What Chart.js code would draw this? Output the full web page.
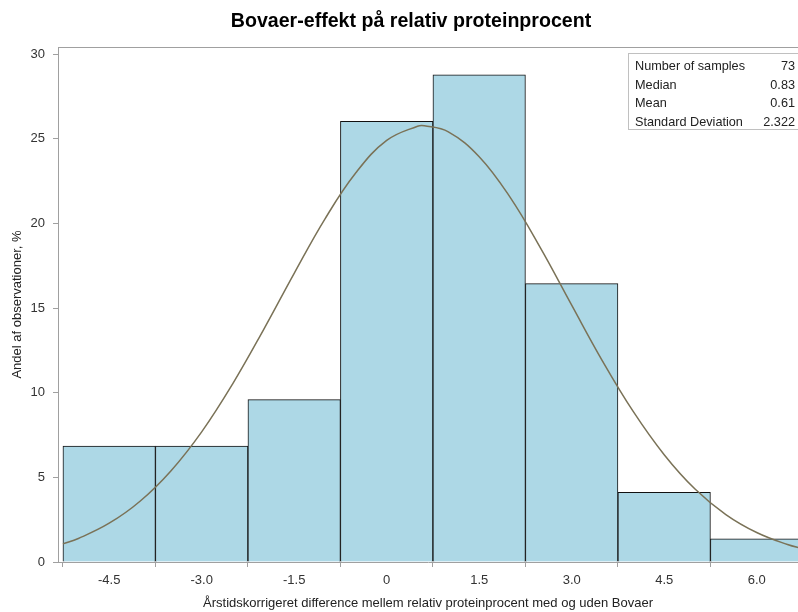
<!DOCTYPE html>
<html>
<head>
<meta charset="utf-8">
<script src="https://cdn.jsdelivr.net/npm/chart.js@4.4.0/dist/chart.umd.min.js"></script>
<style>
  html, body { margin: 0; padding: 0; background: #fff; }
  #wrap { width: 798px; height: 612px; }
</style>
</head>
<body>
<div id="wrap"><canvas id="histChart"></canvas></div>
<script>
// Histogram data (share of observations in %)
const binCenters = [-4.5, -3.0, -1.5, 0, 1.5, 3.0, 4.5, 6.0];
const binPercent = [6.85, 6.85, 9.59, 26.03, 28.77, 16.44, 4.11, 1.37];

// Normal curve
const curveX = [-5.25, -5.0, -4.5, -4.0, -3.5, -3.0, -2.5, -2.0, -1.5, -1.0, -0.5, 0, 0.5, 0.61, 1.0, 1.5, 2.0, 2.5, 3.0, 3.5, 4.0, 4.5, 5.0, 5.5, 6.0, 6.5, 6.75];
const curveY = [1.07, 1.39, 2.29, 3.59, 5.38, 7.69, 10.51, 13.70, 17.05, 20.27, 22.99, 24.90, 25.74, 25.77, 25.41, 23.94, 21.55, 18.51, 15.17, 11.87, 8.88, 6.34, 4.31, 2.80, 1.74, 1.03, 0.78];

// Tick labels
const xTicks = [-4.5, -3.0, -1.5, 0, 1.5, 3.0, 4.5, 6.0];
const xTickLabels = ['-4.5', '-3.0', '-1.5', '0', '1.5', '3.0', '4.5', '6.0'];
const yTicks = [0, 5, 10, 15, 20, 25, 30];

// Summary box
const statLabels = ['Number of samples', 'Median', 'Mean', 'Standard Deviation'];
const statValues = ['73', '0.83', '0.61', '2.322'];

const chartTitle = 'Bovaer-effekt på relativ proteinprocent';
const FONT = '"Liberation Sans", Arial, sans-serif';

const frameAndStats = {
    id: 'frameAndStats',
    afterDatasetsDraw(chart) {
        const { ctx, chartArea } = chart;
        ctx.save();
        // title (sits a bit right of centre in the original)
        ctx.font = 'bold 19.6px ' + FONT;
        ctx.fillStyle = '#000';
        ctx.textAlign = 'center';
        ctx.textBaseline = 'middle';
        ctx.fillText(chartTitle, 411, 21.5);

        // top frame line
        ctx.strokeStyle = '#a0a0a0';
        ctx.lineWidth = 1;
        ctx.beginPath();
        ctx.moveTo(chartArea.left, chartArea.top + 0.5);
        ctx.lineTo(chartArea.right, chartArea.top + 0.5);
        ctx.stroke();

        // stats inset
        const bx = 628.5, by = 53.5, bw = 180, bh = 76;
        ctx.fillStyle = '#fff';
        ctx.fillRect(bx, by, bw, bh);
        ctx.strokeStyle = '#c0c0c0';
        ctx.strokeRect(bx, by, bw, bh);
        ctx.font = '12.7px ' + FONT;
        ctx.fillStyle = '#222';
        ctx.textBaseline = 'middle';
        const rowY = [66, 85, 103.5, 122];
        statLabels.forEach((lab, i) => {
            ctx.textAlign = 'left';
            ctx.fillText(lab, 635, rowY[i]);
            ctx.textAlign = 'right';
            ctx.fillText(statValues[i], 795, rowY[i]);
        });
        ctx.restore();
    }
};

const ctx = document.getElementById('histChart').getContext('2d');
const histChart = new Chart(ctx, {
    type: 'bar',
    data: {
        datasets: [
            {
                type: 'line',
                data: curveX.map((x, i) => ({ x: x, y: curveY[i] })),
                borderColor: '#7a7257',
                borderWidth: 1.5,
                pointRadius: 0,
                tension: 0.4,
                fill: false,
                order: 0
            },
            {
                type: 'bar',
                data: binCenters.map((x, i) => ({ x: x, y: binPercent[i] })),
                backgroundColor: '#add8e6',
                borderColor: '#111',
                borderWidth: 1,
                barPercentage: 1.0,
                categoryPercentage: 1.0,
                order: 1
            }
        ]
    },
    options: {
        responsive: true,
        maintainAspectRatio: false,
        animation: false,
        layout: { padding: { left: 0, right: 0, top: 47, bottom: 1 } },
        plugins: {
            legend: { display: false },
            tooltip: { enabled: false },
            title: { display: false }
        },
        scales: {
            x: {
                type: 'linear',
                offset: false,
                min: -5.33,
                max: 6.67,
                afterBuildTicks: (scale) => {
                    scale.ticks = xTicks.map(v => ({ value: v }));
                },
                ticks: {
                    color: '#333',
                    font: { family: FONT, size: 13 },
                    padding: 6,
                    maxRotation: 0,
                    autoSkip: false,
                    callback: (v) => xTickLabels[xTicks.indexOf(v)]
                },
                grid: { drawOnChartArea: false, drawTicks: true, tickLength: 5, color: '#a0a0a0' },
                border: { color: '#a0a0a0' },
                title: {
                    display: true,
                    text: 'Årstidskorrigeret difference mellem relativ proteinprocent med og uden Bovaer',
                    color: '#222',
                    font: { family: FONT, size: 13 },
                    padding: { top: 2, bottom: 0 }
                },
                afterFit: (scale) => { scale.height = 49; }
            },
            y: {
                min: 0,
                max: 30.42,
                afterBuildTicks: (scale) => {
                    scale.ticks = yTicks.map(v => ({ value: v }));
                },
                ticks: {
                    color: '#333',
                    font: { family: FONT, size: 13 },
                    padding: 8
                },
                grid: { drawOnChartArea: false, drawTicks: true, tickLength: 5, color: '#a0a0a0' },
                border: { color: '#a0a0a0' },
                title: {
                    display: true,
                    text: 'Andel af observationer, %',
                    color: '#222',
                    font: { family: FONT, size: 13 },
                    padding: { top: 10, bottom: 0 }
                },
                afterFit: (scale) => { scale.width = 58; }
            }
        }
    },
    plugins: [frameAndStats]
});
</script>
</body>
</html>
